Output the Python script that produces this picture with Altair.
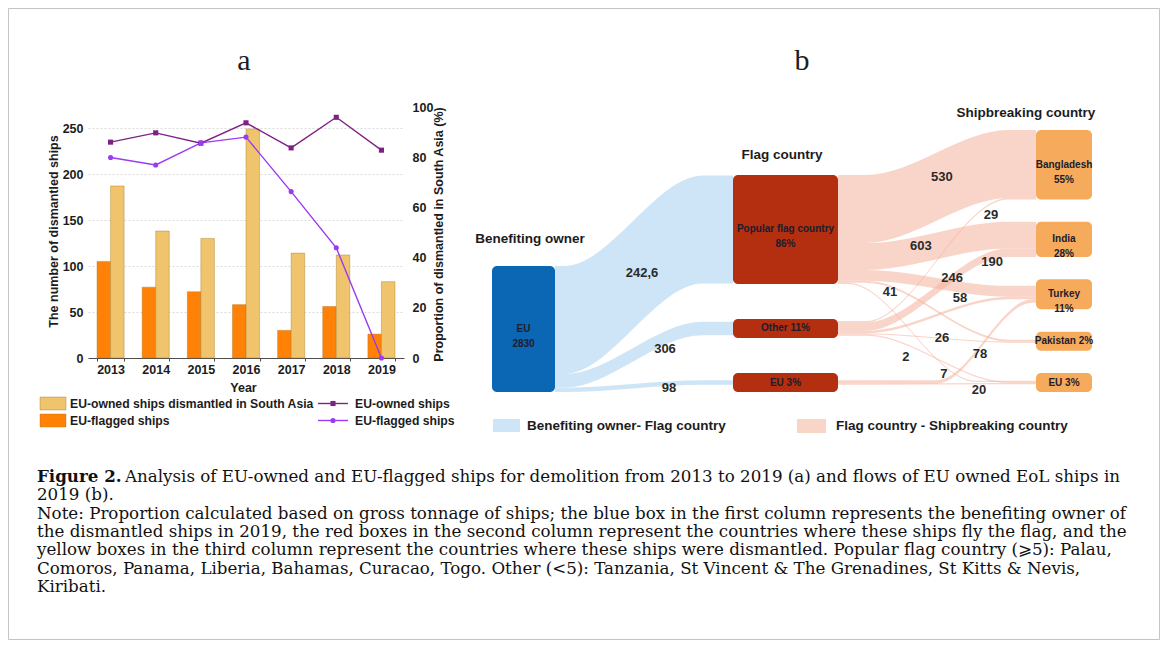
import altair as alt
import pandas as pd

# ------------------------------------------------------------------ DATA
years = ["2013", "2014", "2015", "2016", "2017", "2018", "2019"]
eu_owned_south_asia = [187, 138, 130, 249, 114, 112, 83]      # tan bars
eu_flagged_count = [105, 77, 72, 58, 30, 56, 26]               # orange bars
eu_owned_share = [86.0, 89.7, 85.6, 93.7, 83.7, 95.9, 82.8]    # purple line (%)
eu_flagged_share = [79.9, 76.9, 85.7, 88.0, 66.3, 43.9, 0.0]   # violet line (%)
count_ticks = [0, 50, 100, 150, 200, 250]
share_ticks = [0, 20, 40, 60, 80, 100]

bar_legend = ["EU-owned ships dismantled in South Asia", "EU-flagged ships"]
line_legend = ["EU-owned ships", "EU-flagged ships"]

owner_nodes = ["EU"]
owner_labels = ["EU\n2830"]
flag_nodes = ["Popular", "Other", "EU"]
flag_labels = ["Popular flag country\n86%", "Other 11%", "EU 3%"]
break_nodes = ["Bangladesh", "India", "Turkey", "Pakistan", "EU"]
break_labels = ["Bangladesh\n55%", "India\n28%", "Turkey\n11%", "Pakistan 2%", "EU 3%"]

of_source = ["EU", "EU", "EU"]
of_target = ["Popular", "Other", "EU"]
of_value = [2426, 306, 98]
of_text = ["242,6", "306", "98"]

fb_source = ["Popular"] * 5 + ["Other"] * 5 + ["EU"] * 2
fb_target = ["Bangladesh", "India", "Turkey", "Pakistan", "EU"] * 2 + ["Turkey", "EU"]
fb_value = [1530, 603, 246, 41, 7, 29, 190, 58, 26, 2, 78, 20]
fb_text = ["530", "603", "246", "41", "7", "29", "190", "58", "26", "2", "78", "20"]

column_titles = ["Benefiting owner", "Flag country", "Shipbreaking country"]
sankey_legend = ["Benefiting owner- Flag country", "Flag country - Shipbreaking country"]
panel_letters = ["a", "b"]
caption_bold = "Figure 2."
caption_first_rest = "Analysis of EU-owned and EU-flagged ships for demolition from 2013 to 2019 (a) and flows of EU owned EoL ships in"
caption_lines = [
    "2019 (b).",
    "Note: Proportion calculated based on gross tonnage of ships; the blue box in the first column represents the benefiting owner of",
    "the dismantled ships in 2019, the red boxes in the second column represent the countries where these ships fly the flag, and the",
    "yellow boxes in the third column represent the countries where these ships were dismantled. Popular flag country (\u2a7e5): Palau,",
    "Comoros, Panama, Liberia, Bahamas, Curacao, Togo. Other (<5): Tanzania, St Vincent & The Grenadines, St Kitts & Nevis,",
    "Kiribati.",
]

# ------------------------------------------------------------------ LAYOUT
FULL_W, FULL_H = 1152, 632
M = 8  # page margin: page px -> chart px


def px(v):
    return v - M


SANS = "Liberation Sans"
SERIF = "Liberation Serif"
CAP_FONT = "DejaVu Serif"
INK = "#1c1c1c"

# panel a plot rectangle (page px); the whole chart's view is this rectangle
A_LEFT, A_RIGHT = 88, 404
A_TOP, A_Y0 = 128, 358
A_Y100 = 107
RIGHT_AXIS_X = 405
PW, PH = A_RIGHT - A_LEFT, A_Y0 - A_TOP
PAD_L, PAD_T = px(A_LEFT), px(A_TOP)
PAD_R, PAD_B = FULL_W - PAD_L - PW, FULL_H - PAD_T - PH

# sankey (page px)
COL_X = [(492, 555), (733, 838), (1036, 1092)]
COL_TOP = [None, 175, 130]
COL_BOTTOM = 392
K = 0.0445
W_MIN = 1.2
of_shape = [(0.05, 0.17)] * 3
of_label = [(0.489, 7), (0.618, 11), (0.64, 4)]
fb_shape = [(0.14, 0.14)] * 12
fb_shape[4] = (0.05, 0.30)
fb_shape[10] = (0.50, 0.02)
fb_label = [(0.525, -7), (0.419, -3), (0.576, -8), (0.263, 6), (0.535, 8), (0.773, 11),
            (0.778, 7), (0.616, -9), (0.525, 0), (0.343, 13), (0.717, 7), (0.712, 6)]

# ------------------------------------------------------------------ PANEL A
xs = alt.Scale(domain=years, paddingInner=0.4, paddingOuter=0.2)
yL = alt.Scale(domain=[0, 250], nice=False, zero=True)
yR = alt.Scale(domain=[0, 100], range=[PH, A_Y100 - A_TOP], nice=False, zero=True)

common_axis = dict(labelFont=SANS, labelFontWeight="bold", labelFontSize=12.5, labelColor=INK,
                   titleFont=SANS, titleFontWeight="bold", titleFontSize=12.5, titleColor=INK)

x_axis = alt.Axis(orient="bottom", title="Year", labelAngle=0, labelPadding=2, grid=False,
                  ticks=True, tickBand="extent", tickSize=3, tickColor="#4d4d4d", tickWidth=1,
                  domainColor="#4d4d4d", domainWidth=1,
                  titleX=243 - A_LEFT, titleY=387 - A_Y0, titleBaseline="middle", titleAlign="center",
                  **common_axis)
yl_axis = alt.Axis(orient="left", values=count_ticks, domain=False, labelPadding=5, ticks=False,
                   grid=True, gridColor="#d2d2d2", gridDash=[2, 2], gridWidth=0.8,
                   title="The number of dismantled ships", titleAngle=270,
                   titleX=53 - A_LEFT, titleY=231 - A_TOP, titleBaseline="middle", titleAlign="center",
                   **common_axis)
yr_axis = alt.Axis(orient="right", offset=RIGHT_AXIS_X - A_RIGHT, values=share_ticks, domain=False,
                   ticks=False, grid=False, labelPadding=7, title="Proportion of dismantled in South Asia (%)",
                   titleAngle=270, titleX=438 - RIGHT_AXIS_X, titleY=234 - A_TOP, titleBaseline="middle",
                   titleAlign="center", **common_axis)

bars_df = pd.DataFrame({
    "year": years * 2,
    "series": ["a_flag"] * len(years) + ["b_owned"] * len(years),
    "value": eu_flagged_count + eu_owned_south_asia,
})
bar_colors = alt.Scale(domain=["a_flag", "b_owned"], range=["#ff8206", "#efc46c"])
bars = alt.Chart(bars_df).mark_bar(stroke="#a8741f", strokeWidth=0.4).encode(
    x=alt.X("year:N", scale=xs, axis=x_axis),
    xOffset=alt.XOffset("series:N", scale=alt.Scale(paddingInner=0, paddingOuter=0)),
    y=alt.Y("value:Q", scale=yL, axis=yl_axis),
    color=alt.Color("series:N", scale=bar_colors, legend=None),
)

line_df = pd.DataFrame({
    "year": years * 2,
    "series": ["owned"] * len(years) + ["flag"] * len(years),
    "pct": eu_owned_share + eu_flagged_share,
})
line_colors = alt.Scale(domain=["owned", "flag"], range=["#7e2182", "#9a3af2"])
marker_shapes = alt.Scale(domain=["owned", "flag"], range=["square", "circle"])
# the shared x channel carries the same axis spec in every layer
lines = alt.Chart(line_df).mark_line(strokeWidth=1.4).encode(
    x=alt.X("year:N", scale=xs, axis=x_axis),
    y=alt.Y("pct:Q", scale=yR, axis=yr_axis),
    color=alt.Color("series:N", scale=line_colors, legend=None),
)
markers = alt.Chart(line_df).mark_point(filled=True, size=26, opacity=1).encode(
    x=alt.X("year:N", scale=xs, axis=x_axis),
    y=alt.Y("pct:Q", scale=yR, axis=None),
    color=alt.Color("series:N", scale=line_colors, legend=None),
    shape=alt.Shape("series:N", scale=marker_shapes, legend=None),
)

panel_a = alt.layer(bars, lines, markers).resolve_scale(y="independent", color="independent")

# ------------------------------------------------------------------ SANKEY GEOMETRY
col_nodes = [owner_nodes, flag_nodes, break_nodes]
col_labels = [owner_labels, flag_labels, break_labels]

links = []
for s, t, v, lab, sh, lp in zip(of_source, of_target, of_value, of_text, of_shape, of_label):
    links.append(dict(sc=0, s=s, tc=1, t=t, v=v, text=lab, f0=sh[0], f1=sh[1], lt=lp[0], ldy=lp[1], kind="of"))
for s, t, v, lab, sh, lp in zip(fb_source, fb_target, fb_value, fb_text, fb_shape, fb_label):
    links.append(dict(sc=1, s=s, tc=2, t=t, v=v, text=lab, f0=sh[0], f1=sh[1], lt=lp[0], ldy=lp[1], kind="fb"))
for L in links:
    L["w"] = max(L["v"] * K, W_MIN)

nodes = {}
for c, (names, labels) in enumerate(zip(col_nodes, col_labels)):
    for n, lab in zip(names, labels):
        out_w = sum(L["w"] for L in links if L["sc"] == c and L["s"] == n)
        in_w = sum(L["w"] for L in links if L["tc"] == c and L["t"] == n)
        nodes[(c, n)] = dict(col=c, name=n, label=lab, h=max(out_w, in_w, 8 + 11 * (lab.count("\n") + 1)),
                             out_w=out_w, in_w=in_w)

for c, names in enumerate(col_nodes):
    hs = [nodes[(c, n)]["h"] for n in names]
    if COL_TOP[c] is None:
        y = COL_BOTTOM - sum(hs)
        gap = 0
    else:
        y = COL_TOP[c]
        gap = (COL_BOTTOM - COL_TOP[c] - sum(hs)) / max(len(names) - 1, 1)
    for n in names:
        nodes[(c, n)]["y0"] = y
        y += nodes[(c, n)]["h"] + gap

for key, nd in nodes.items():
    outs = [L for L in links if (L["sc"], L["s"]) == key]
    y = nd["y0"] + (nd["h"] - nd["out_w"]) / 2
    for L in outs:
        L["ys"] = y
        y += L["w"]
    ins = sorted([L for L in links if (L["tc"], L["t"]) == key],
                 key=lambda L: col_nodes[L["sc"]].index(L["s"]))
    y = nd["y0"] + (nd["h"] - nd["in_w"]) / 2
    for L in ins:
        L["yt"] = y
        y += L["w"]

area_rows, label_rows = [], []
for i, L in enumerate(links):
    x0 = COL_X[L["sc"]][1]
    x1 = COL_X[L["tc"]][0]
    dx = x1 - x0
    xa, xb = x0 + L["f0"] * dx, x1 - L["f1"] * dx
    for xx, yy in [(x0, L["ys"]), (xa, L["ys"]), (xb, L["yt"]), (x1, L["yt"])]:
        area_rows.append(dict(id=i, kind=L["kind"], x=px(xx), y=px(yy), y2=px(yy + L["w"])))
    xl = x0 + L["lt"] * dx
    u = min(max((xl - xa) / (xb - xa), 0), 1)
    s = 3 * u * u - 2 * u * u * u
    yc = (L["ys"] + L["w"] / 2) + s * (L["yt"] - L["ys"]) + L["ldy"]
    label_rows.append(dict(text=L["text"], x=px(xl), y=px(yc)))

area_df = pd.DataFrame(area_rows)
flow_label_df = pd.DataFrame(label_rows)
node_df = pd.DataFrame([
    dict(kind=str(nd["col"]), label=nd["label"], x=px(COL_X[nd["col"]][0]), x2=px(COL_X[nd["col"]][1]),
         y=px(nd["y0"]), y2=px(nd["y0"] + nd["h"]),
         cx=px((COL_X[nd["col"]][0] + COL_X[nd["col"]][1]) / 2), cy=px(nd["y0"] + nd["h"] / 2))
    for nd in nodes.values()
])

# full-figure pixel scales (chart px -> view coordinates)
sx = alt.Scale(domain=[0, FULL_W], range=[-PAD_L, FULL_W - PAD_L], nice=False, zero=False)
sy = alt.Scale(domain=[0, FULL_H], range=[-PAD_T, FULL_H - PAD_T], nice=False, zero=False)


def X(f):
    return alt.X(f, type="quantitative", scale=sx, axis=None)


def Y(f):
    return alt.Y(f, type="quantitative", scale=sy, axis=None)


frame_df = pd.DataFrame({"x": [0.5], "x2": [FULL_W - 0.5], "y": [0.5], "y2": [FULL_H - 0.5]})
frame = alt.Chart(frame_df).mark_rect(fill="transparent", stroke="#c4c4c4", strokeWidth=1).encode(
    x=X("x"), x2=alt.X2("x2"), y=Y("y"), y2=alt.Y2("y2"))

blue_links = alt.Chart(area_df[area_df.kind == "of"]).mark_area(
    color="#cde5f6", opacity=1, interpolate="monotone").encode(
    x=X("x"), y=Y("y"), y2=alt.Y2("y2"), detail="id:N")
pink_links = alt.Chart(area_df[area_df.kind == "fb"]).mark_area(
    color="#f4b19a", opacity=0.55, interpolate="monotone").encode(
    x=X("x"), y=Y("y"), y2=alt.Y2("y2"), detail="id:N")
node_rects = alt.Chart(node_df).mark_rect(cornerRadius=5).encode(
    x=X("x"), x2=alt.X2("x2"), y=Y("y"), y2=alt.Y2("y2"),
    color=alt.Color("kind:N", scale=alt.Scale(domain=["0", "1", "2"], range=["#0b66b3", "#b32f10", "#f6aa5c"]),
                    legend=None))
node_text = alt.Chart(node_df).mark_text(font=SANS, fontWeight="bold", fontSize=10, lineHeight=15,
                                         color="#201c2c", align="center", baseline="middle",
                                         lineBreak="\n").encode(x=X("cx"), y=Y("cy"), text="label:N")
flow_text = alt.Chart(flow_label_df).mark_text(font=SANS, fontWeight="bold", fontSize=13, color="#2a2a2a",
                                               align="center", baseline="middle").encode(
    x=X("x"), y=Y("y"), text="text:N")

title_df = pd.DataFrame({
    "text": column_titles,
    "x": [px(COL_X[0][0] + 38), px(COL_X[1][0] + 49), px(COL_X[2][0] - 10)],
    "y": [px(nodes[(0, "EU")]["y0"] - 27), px(COL_TOP[1] - 20), px(COL_TOP[2] - 17)],
})
col_title_text = alt.Chart(title_df).mark_text(font=SANS, fontWeight="bold", fontSize=13.5, color=INK,
                                               align="center", baseline="middle").encode(
    x=X("x"), y=Y("y"), text="text:N")

sk_leg_df = pd.DataFrame({
    "text": sankey_legend,
    "x": [px(493), px(797)], "x2": [px(520), px(826)],
    "y": [px(419), px(419)], "y2": [px(432), px(433)],
    "tx": [px(527), px(836)], "ty": [px(426), px(426)],
    "kind": ["of", "fb"],
})
sk_leg_rect = alt.Chart(sk_leg_df).mark_rect().encode(
    x=X("x"), x2=alt.X2("x2"), y=Y("y"), y2=alt.Y2("y2"),
    color=alt.Color("kind:N", scale=alt.Scale(domain=["of", "fb"], range=["#cde5f6", "#f9d5c8"]), legend=None))
sk_leg_text = alt.Chart(sk_leg_df).mark_text(font=SANS, fontWeight="bold", fontSize=13.5, color=INK,
                                             align="left", baseline="middle").encode(
    x=X("tx"), y=Y("ty"), text="text:N")

bar_leg_df = pd.DataFrame({
    "text": bar_legend, "kind": ["b_owned", "a_flag"],
    "x": [px(40)] * 2, "x2": [px(66)] * 2,
    "y": [px(397), px(414)], "y2": [px(410), px(427)],
    "tx": [px(70)] * 2, "ty": [px(403.5), px(420.5)],
})
bar_leg_rect = alt.Chart(bar_leg_df).mark_rect(stroke="#a8741f", strokeWidth=0.4).encode(
    x=X("x"), x2=alt.X2("x2"), y=Y("y"), y2=alt.Y2("y2"),
    color=alt.Color("kind:N", scale=bar_colors, legend=None))
bar_leg_text = alt.Chart(bar_leg_df).mark_text(font=SANS, fontWeight="bold", fontSize=12.2, color=INK,
                                               align="left", baseline="middle").encode(
    x=X("tx"), y=Y("ty"), text="text:N")
line_leg_df = pd.DataFrame({
    "text": line_legend, "kind": ["owned", "flag"],
    "x": [px(318)] * 2, "x2": [px(348)] * 2, "xm": [px(333)] * 2,
    "y": [px(403.5), px(420.5)], "tx": [px(355)] * 2,
})
line_leg_rule = alt.Chart(line_leg_df).mark_rule(strokeWidth=1.4).encode(
    x=X("x"), x2=alt.X2("x2"), y=Y("y"), color=alt.Color("kind:N", scale=line_colors, legend=None))
line_leg_pt = alt.Chart(line_leg_df).mark_point(filled=True, size=26, opacity=1).encode(
    x=X("xm"), y=Y("y"), color=alt.Color("kind:N", scale=line_colors, legend=None),
    shape=alt.Shape("kind:N", scale=marker_shapes, legend=None))
line_leg_text = alt.Chart(line_leg_df).mark_text(font=SANS, fontWeight="bold", fontSize=12.2, color=INK,
                                                 align="left", baseline="middle").encode(
    x=X("tx"), y=Y("y"), text="text:N")

letter_df = pd.DataFrame({"text": panel_letters, "x": [px(244), px(802)], "y": [px(70), px(70)]})
letters = alt.Chart(letter_df).mark_text(font=SERIF, fontSize=30, color=INK, align="center",
                                         baseline="alphabetic").encode(x=X("x"), y=Y("y"), text="text:N")

CAP_X, CAP_REST_X, CAP_Y0, CAP_LH, CAP_FS = 37, 125, 477, 18.3, 16.7
cap_bold_df = pd.DataFrame({"text": [caption_bold], "x": [px(CAP_X)], "y": [px(CAP_Y0)]})
cap_rest_df = pd.DataFrame({
    "text": [caption_first_rest] + caption_lines,
    "x": [px(CAP_REST_X)] + [px(CAP_X)] * len(caption_lines),
    "y": [px(CAP_Y0 + CAP_LH * i) for i in range(len(caption_lines) + 1)],
})
cap_bold = alt.Chart(cap_bold_df).mark_text(font=CAP_FONT, fontWeight="bold", fontSize=CAP_FS, color="#111",
                                            align="left", baseline="middle").encode(
    x=X("x"), y=Y("y"), text="text:N")
cap_rest = alt.Chart(cap_rest_df).mark_text(font=CAP_FONT, fontSize=CAP_FS, color="#111",
                                            align="left", baseline="middle").encode(
    x=X("x"), y=Y("y"), text="text:N")

decor = alt.layer(frame, blue_links, pink_links, node_rects, node_text, flow_text, col_title_text,
                  sk_leg_rect, sk_leg_text, bar_leg_rect, bar_leg_text, line_leg_rule, line_leg_pt,
                  line_leg_text, letters, cap_bold, cap_rest).resolve_scale(color="independent",
                                                                            shape="independent")

chart = alt.layer(panel_a, decor).resolve_scale(
    x="independent", y="independent", color="independent", shape="independent"
).properties(
    width=PW, height=PH, autosize=alt.AutoSizeParams(type="none"),
    padding={"left": PAD_L, "top": PAD_T, "right": PAD_R, "bottom": PAD_B}, background="white"
).configure_view(stroke="transparent")

chart.save("out.html", embed_options={"renderer": "svg", "actions": False})
